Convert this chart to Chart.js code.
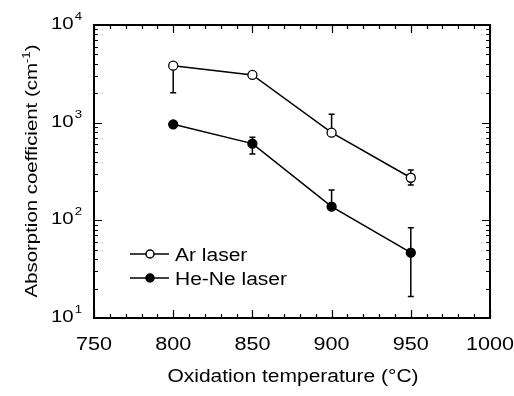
<!DOCTYPE html>
<html>
<head>
<meta charset="utf-8">
<script src="https://cdn.jsdelivr.net/npm/chart.js@4/dist/chart.umd.min.js"></script>
<style>
  html, body { margin: 0; padding: 0; background: #fff; }
  #wrap { width: 514px; height: 396px; }
</style>
</head>
<body>
<div id="wrap"><canvas id="c" width="514" height="396"></canvas></div>
<script>
// Oxidation temperatures (°C)
const temperatures = [800, 850, 900, 950];

// Absorption coefficient (cm^-1) for each laser
const arValues   = [3830, 3080, 790, 273];
const heNeValues = [962, 610, 138, 46.7];

// Error bar limits (null = no bar on that side)
const arUpper   = [null, null, 1220, 328];
const arLower   = [2030, null, null, 230];
const heNeUpper = [null, 708, 205, 84];
const heNeLower = [null, 479, null, 16.6];

// Axis ticks
const xMajorTicks = [750, 800, 850, 900, 950, 1000];
const yDecades = [1, 2, 3, 4];

const seriesNames = ['Ar laser', 'He-Ne laser'];

const FONT = '"Liberation Sans", Arial, Helvetica, sans-serif';
const STRETCH = 1.2;

function toPoints(xs, ys) {
  return xs.map((x, i) => ({ x: x, y: ys[i] }));
}

function drawText(ctx, text, x, y, size, align) {
  ctx.save();
  ctx.font = size + 'px ' + FONT;
  ctx.fillStyle = '#000';
  ctx.textBaseline = 'alphabetic';
  const w = ctx.measureText(text).width * STRETCH;
  let left = x;
  if (align === 'center') left = x - w / 2;
  else if (align === 'right') left = x - w;
  ctx.translate(left, y);
  ctx.scale(STRETCH, 1);
  ctx.textAlign = 'left';
  ctx.fillText(text, 0, 0);
  ctx.restore();
  return w;
}

function textWidth(ctx, text, size) {
  ctx.save();
  ctx.font = size + 'px ' + FONT;
  const w = ctx.measureText(text).width * STRETCH;
  ctx.restore();
  return w;
}

const errorBars = {
  id: 'errorBars',
  beforeDatasetsDraw(chart) {
    const ctx = chart.ctx;
    const xs = chart.scales.x, ys = chart.scales.y;
    const sets = [[arValues, arUpper, arLower], [heNeValues, heNeUpper, heNeLower]];
    ctx.save();
    ctx.strokeStyle = '#000';
    ctx.lineWidth = 1.5;
    sets.forEach(([vals, up, lo]) => {
      temperatures.forEach((t, i) => {
        const px = xs.getPixelForValue(t);
        const py = ys.getPixelForValue(vals[i]);
        [up[i], lo[i]].forEach(lim => {
          if (lim == null) return;
          const ly = ys.getPixelForValue(lim);
          ctx.beginPath();
          ctx.moveTo(px, py);
          ctx.lineTo(px, ly);
          ctx.moveTo(px - 3, ly);
          ctx.lineTo(px + 3, ly);
          ctx.stroke();
        });
      });
    });
    ctx.restore();
  }
};

const frameAndLabels = {
  id: 'frameAndLabels',
  afterDraw(chart) {
    const ctx = chart.ctx;
    const a = chart.chartArea;
    const xs = chart.scales.x, ys = chart.scales.y;
    ctx.save();
    ctx.strokeStyle = '#000';

    // frame
    ctx.lineWidth = 2;
    ctx.strokeRect(a.left, a.top, a.right - a.left, a.bottom - a.top);

    // x ticks, inward on bottom and top
    ctx.lineWidth = 1.2;
    for (let v = 750; v <= 1000; v += 10) {
      const px = Math.round(xs.getPixelForValue(v)) + 0.5;
      const len = (v % 50 === 0) ? 8 : 4;
      ctx.beginPath();
      ctx.moveTo(px, a.bottom); ctx.lineTo(px, a.bottom - len);
      ctx.moveTo(px, a.top); ctx.lineTo(px, a.top + len);
      ctx.stroke();
    }
    // y ticks, inward on left and right
    for (let d = 1; d <= 4; d++) {
      for (let m = 1; m <= 9; m++) {
        if (d === 4 && m > 1) break;
        const val = m * Math.pow(10, d);
        const py = Math.round(ys.getPixelForValue(val)) + 0.5;
        const len = (m === 1) ? 8 : 4;
        ctx.beginPath();
        ctx.moveTo(a.left, py); ctx.lineTo(a.left + len, py);
        ctx.moveTo(a.right, py); ctx.lineTo(a.right - len, py);
        ctx.stroke();
      }
    }

    // x tick labels
    xMajorTicks.forEach(v => {
      drawText(ctx, String(v), xs.getPixelForValue(v), a.bottom + 32, 18, 'center');
    });
    // y tick labels: 10 with superscript exponent
    yDecades.forEach(d => {
      const py = ys.getPixelForValue(Math.pow(10, d));
      const right = a.left - 12;
      const ew = textWidth(ctx, String(d), 11);
      drawText(ctx, String(d), right, py - 5, 11, 'right');
      drawText(ctx, '10', right - ew - 1, py + 4, 17, 'right');
    });

    // x axis title
    drawText(ctx, 'Oxidation temperature (\u00B0C)', 293, 382, 17.5, 'center');

    // y axis title, rotated, with superscript
    ctx.save();
    ctx.translate(37, 171);
    ctx.rotate(-Math.PI / 2);
    const p1 = 'Absorption coefficient (cm', p2 = '-1', p3 = ')';
    const w1 = textWidth(ctx, p1, 17), w2 = textWidth(ctx, p2, 11), w3 = textWidth(ctx, p3, 17);
    let x0 = -(w1 + w2 + w3) / 2;
    drawText(ctx, p1, x0, 0, 17, 'left');
    drawText(ctx, p2, x0 + w1, -7, 11, 'left');
    drawText(ctx, p3, x0 + w1 + w2, 0, 17, 'left');
    ctx.restore();

    // legend
    const rows = [
      { y: 254, fill: '#fff', name: seriesNames[0] },
      { y: 278, fill: '#000', name: seriesNames[1] }
    ];
    rows.forEach(r => {
      ctx.lineWidth = 1.5;
      ctx.beginPath();
      ctx.moveTo(130, r.y); ctx.lineTo(169, r.y);
      ctx.stroke();
      ctx.beginPath();
      ctx.arc(150, r.y, 4, 0, Math.PI * 2);
      ctx.fillStyle = r.fill;
      ctx.fill();
      ctx.stroke();
      drawText(ctx, r.name, 175, r.y + 6.5, 17.5, 'left');
    });

    ctx.restore();
  }
};

new Chart(document.getElementById('c'), {
  type: 'scatter',
  data: {
    datasets: [
      {
        label: seriesNames[0],
        data: toPoints(temperatures, arValues),
        showLine: true,
        borderColor: '#000',
        borderWidth: 1.5,
        pointBackgroundColor: '#fff',
        pointBorderColor: '#000',
        pointBorderWidth: 1.3,
        pointRadius: 4.5
      },
      {
        label: seriesNames[1],
        data: toPoints(temperatures, heNeValues),
        showLine: true,
        borderColor: '#000',
        borderWidth: 1.5,
        pointBackgroundColor: '#000',
        pointBorderColor: '#000',
        pointBorderWidth: 1.3,
        pointRadius: 4.5
      }
    ]
  },
  options: {
    responsive: false,
    animation: false,
    layout: { padding: { left: 94, right: 24, top: 25, bottom: 78 } },
    plugins: { legend: { display: false }, tooltip: { enabled: false } },
    scales: {
      x: { type: 'linear', min: 750, max: 1000, display: false },
      y: { type: 'logarithmic', min: 10, max: 10000, display: false }
    }
  },
  plugins: [errorBars, frameAndLabels]
});
</script>
</body>
</html>
